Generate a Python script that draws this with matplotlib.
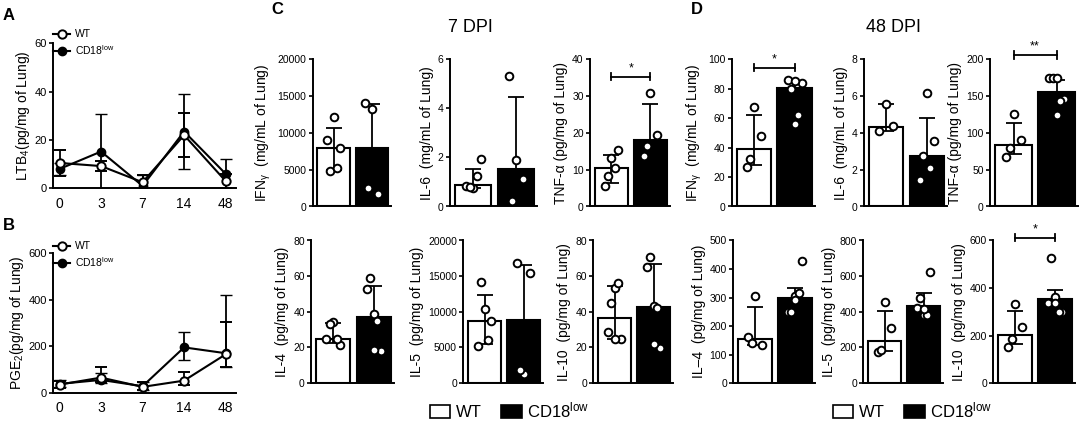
import numpy as np
import matplotlib
matplotlib.use("Agg")
import matplotlib.pyplot as plt
from matplotlib.lines import Line2D
from matplotlib.patches import Patch

plt.rcParams['font.family'] = ['Liberation Sans', 'DejaVu Sans']
plt.rcParams['mathtext.fontset'] = 'custom'
plt.rcParams['mathtext.rm'] = 'Liberation Sans'
plt.rcParams['mathtext.it'] = 'Liberation Sans:italic'

# ---- panel A / B : time course ----
days = ['0', '3', '7', '14', '48']
ltb4_wt = [10.5, 9.2, 2.5, 22, 3]
ltb4_wt_err = [5.5, 2, 3, 9, 3]
ltb4_ko = [8, 15.2, 1, 23.5, 6]
ltb4_ko_err = [2.5, 15.4, 4.5, 15.5, 6]

pge2_wt = [35, 65, 25, 52, 165]
pge2_wt_lo = [15, 20, 15, 20, 55]
pge2_wt_hi = [15, 45, 20, 38, 140]
pge2_ko = [38, 55, 28, 195, 170]
pge2_ko_lo = [15, 15, 15, 55, 60]
pge2_ko_hi = [15, 30, 20, 65, 250]

# ---- panel C : 7 DPI (bars = [WT, CD18low]) ----
c_ifn_bars = [8000, 8000]
c_ifn_lo = [5000, 2100]
c_ifn_hi = [10700, 13900]
c_ifn_wt = [9100, 12200, 7900, 4800, 5200]
c_ifn_ko = [14100, 13300, 1700, 2500]

c_il6_bars = [0.86, 1.54]
c_il6_lo = [0.77, 0.4]
c_il6_hi = [1.54, 4.47]
c_il6_wt = [0.83, 0.75, 1.92, 0.79, 1.23]
c_il6_ko = [5.33, 1.88, 1.13, 0.22]

c_tnf_bars = [10.5, 18.1]
c_tnf_lo = [6.5, 14]
c_tnf_hi = [14.1, 27.9]
c_tnf_wt = [5.7, 13.2, 15.4, 8.2, 10.5]
c_tnf_ko = [13.6, 30.8, 19.5, 16.5]

c_il4_bars = [24.8, 36.9]
c_il4_lo = [22.5, 18]
c_il4_hi = [33.7, 54.4]
c_il4_wt = [24.8, 34.4, 21.1, 33.1, 24.8]
c_il4_ko = [52.6, 38.7, 17.8, 59.1, 35, 18.3]

c_il5_bars = [8700, 8840]
c_il5_lo = [5500, 1300]
c_il5_hi = [12360, 16530]
c_il5_wt = [5200, 10450, 8750, 14170, 5970]
c_il5_ko = [16850, 1200, 15370, 1800]

c_il10_bars = [36.5, 42.9]
c_il10_lo = [24.7, 20]
c_il10_hi = [54.3, 66.7]
c_il10_wt = [28.5, 53.4, 24.7, 44.8, 56.2, 24.7]
c_il10_ko = [65.2, 43.4, 19.4, 70.9, 41.9, 21.9]

# ---- panel D : 48 DPI ----
d_ifn_bars = [39.2, 80.4]
d_ifn_lo = [28, 58]
d_ifn_hi = [62.2, 84]
d_ifn_wt = [26.8, 67.3, 47.7, 32]
d_ifn_ko = [86, 56, 84, 80, 62, 85]

d_il6_bars = [4.32, 2.77]
d_il6_lo = [4.1, 1.8]
d_il6_hi = [5.58, 4.8]
d_il6_wt = [4.09, 5.58, 4.36]
d_il6_ko = [1.42, 6.16, 3.55, 2.74, 2.11]

d_tnf_bars = [84, 156]
d_tnf_lo = [72, 130]
d_tnf_hi = [114, 172]
d_tnf_wt = [67, 125, 91, 79]
d_tnf_ko = [175, 124, 146, 175, 143, 174]

d_il4_bars = [153, 297]
d_il4_lo = [134, 250]
d_il4_hi = [268, 332]
d_il4_wt = [163, 305, 132, 140]
d_il4_ko = [250, 307, 429, 248, 315, 291]

d_il5_bars = [234, 434]
d_il5_lo = [180, 390]
d_il5_hi = [404, 508]
d_il5_wt = [174, 453, 306, 183]
d_il5_ko = [419, 381, 622, 475, 381, 413]

d_il10_bars = [204, 355]
d_il10_lo = [165, 300]
d_il10_hi = [304, 390]
d_il10_wt = [150, 331, 236, 186]
d_il10_ko = [338, 364, 299, 528, 297, 338]

W, H = 1084, 423
fig = plt.figure(figsize=(W / 100, H / 100), dpi=100)


def px_axes(x0, x1, ytop, ybot):
    return fig.add_axes([x0 / W, (H - ybot) / H, (x1 - x0) / W, (ybot - ytop) / H])


def prism_style(ax):
    for s in ['top', 'right']:
        ax.spines[s].set_visible(False)
    for s in ['left', 'bottom']:
        ax.spines[s].set_linewidth(1.4)
    ax.tick_params(axis='y', direction='out', length=3, width=1.2, labelsize=7.5, pad=1.5)


def jitter(n):
    pattern = [-0.17, 0.0, 0.17, -0.09, 0.09, 0.0]
    return np.array(pattern[:n]) if n <= len(pattern) else np.resize(pattern, n)


def bar_panel(ax, bars, lo, hi, wt, ko, ymax, step, ylabel):
    prism_style(ax)
    x = np.arange(2)
    ax.bar(x, bars, width=0.85, color=['white', 'black'], edgecolor='black',
           linewidth=1.5, zorder=2)
    yerr = [np.array(bars) - np.array(lo), np.array(hi) - np.array(bars)]
    ax.errorbar(x, bars, yerr=yerr, fmt='none', ecolor='black', elinewidth=1.3,
                capsize=6, capthick=1.3, zorder=3)
    for i, pts in enumerate([wt, ko]):
        ax.plot(i + jitter(len(pts)), pts, 'o', ms=5.5, mfc='white', mec='black',
                mew=1.4, zorder=4, clip_on=False)
    ax.set_xlim(-0.55, 1.5)
    ax.set_ylim(0, ymax)
    ticks = np.arange(0, ymax + step / 2, step)
    ax.set_yticks(ticks)
    ax.set_yticklabels([f'{t:g}' for t in ticks])
    ax.set_xticks([])
    ax.set_ylabel(ylabel, fontsize=10, labelpad=3)


def sig(ax, y, label):
    ax.plot([0, 1], [y, y], color='black', lw=1.3, clip_on=False, zorder=5)
    h = ax.get_ylim()[1] * 0.025
    for xe in [0, 1]:
        ax.plot([xe, xe], [y - h, y + h], color='black', lw=1.3, clip_on=False)
    ax.text(0.5, y + h * 0.6, label, ha='center', va='bottom', fontsize=9)


# ---- A ----
axA = px_axes(53.3, 236, 43.3, 188.3)
prism_style(axA)
xd = np.arange(len(days))
axA.errorbar(xd, ltb4_wt, yerr=ltb4_wt_err, fmt='-o', color='black', lw=1.5,
             ms=6, mfc='white', mec='black', mew=1.4, capsize=4, elinewidth=1.3, zorder=3)
axA.errorbar(xd, ltb4_ko, yerr=ltb4_ko_err, fmt='-o', color='black', lw=1.5,
             ms=6, mfc='black', mec='black', capsize=4, elinewidth=1.3, zorder=2)
axA.set_xlim(-0.15, 4.25)
axA.set_ylim(0, 60)
axA.set_yticks([0, 20, 40, 60])
axA.set_xticks(xd)
axA.set_xticklabels(days)
axA.tick_params(axis='x', direction='out', length=0, labelsize=10, pad=6)
axA.tick_params(axis='y', labelsize=8)
axA.set_ylabel('LTB$_4$(pg/mg of Lung)', fontsize=10, labelpad=2)

# ---- B ----
axB = px_axes(53.3, 236, 253.3, 392.7)
prism_style(axB)
axB.errorbar(xd, pge2_wt, yerr=[pge2_wt_lo, pge2_wt_hi], fmt='-o', color='black', lw=1.5,
             ms=6, mfc='white', mec='black', mew=1.4, capsize=4, elinewidth=1.3, zorder=3)
axB.errorbar(xd, pge2_ko, yerr=[pge2_ko_lo, pge2_ko_hi], fmt='-o', color='black', lw=1.5,
             ms=6, mfc='black', mec='black', capsize=4, elinewidth=1.3, zorder=2)
axB.set_xlim(-0.15, 4.25)
axB.set_ylim(0, 600)
axB.set_yticks([0, 200, 400, 600])
axB.set_xticks(xd)
axB.set_xticklabels(days)
axB.tick_params(axis='x', direction='out', length=0, labelsize=10, pad=6)
axB.tick_params(axis='y', labelsize=8)
axB.set_ylabel('PGE$_2$(pg/mg of Lung)', fontsize=10, labelpad=2)

line_handles = [
    Line2D([], [], color='black', lw=1.5, marker='o', ms=6, mfc='white', mec='black', mew=1.4),
    Line2D([], [], color='black', lw=1.5, marker='o', ms=6, mfc='black', mec='black'),
]
line_labels = ['WT', 'CD18$^{\\mathrm{low}}$']
for ytop in [24, 236]:
    fig.legend(line_handles, line_labels, loc='upper left',
               bbox_to_anchor=(48 / W, 1 - ytop / H), frameon=False, fontsize=7.5,
               handlelength=1.6, handletextpad=0.5, labelspacing=0.35, borderpad=0)

# ---- C / D bar panels ----
top_row = (59.3, 206.5)
bot_row = (240.5, 383)

panels = [
    ((312.7, 390.7), top_row, c_ifn_bars, c_ifn_lo, c_ifn_hi, c_ifn_wt, c_ifn_ko, 20000, 5000,
     'IFN$_{\\mathrm{γ}}$  (mg/mL of Lung)'),
    ((450, 537), top_row, c_il6_bars, c_il6_lo, c_il6_hi, c_il6_wt, c_il6_ko, 6, 2,
     'IL-6  (mg/mL of Lung)'),
    ((590, 670), top_row, c_tnf_bars, c_tnf_lo, c_tnf_hi, c_tnf_wt, c_tnf_ko, 40, 10,
     'TNF-α (pg/mg of Lung)'),
    ((311, 394), bot_row, c_il4_bars, c_il4_lo, c_il4_hi, c_il4_wt, c_il4_ko, 80, 20,
     'IL-4  (pg/mg of Lung)'),
    ((463.3, 543), bot_row, c_il5_bars, c_il5_lo, c_il5_hi, c_il5_wt, c_il5_ko, 20000, 5000,
     'IL-5  (pg/mg of Lung)'),
    ((593.3, 673), bot_row, c_il10_bars, c_il10_lo, c_il10_hi, c_il10_wt, c_il10_ko, 80, 20,
     'IL-10  (pg/mg of Lung)'),
    ((731.7, 815), top_row, d_ifn_bars, d_ifn_lo, d_ifn_hi, d_ifn_wt, d_ifn_ko, 100, 20,
     'IFN$_{\\mathrm{γ}}$  (mg/mL of Lung)'),
    ((864, 947), top_row, d_il6_bars, d_il6_lo, d_il6_hi, d_il6_wt, d_il6_ko, 8, 2,
     'IL-6  (mg/mL of Lung)'),
    ((990, 1078), top_row, d_tnf_bars, d_tnf_lo, d_tnf_hi, d_tnf_wt, d_tnf_ko, 200, 50,
     'TNF-α (pg/mg of Lung)'),
    ((733.3, 815), bot_row, d_il4_bars, d_il4_lo, d_il4_hi, d_il4_wt, d_il4_ko, 500, 100,
     'IL–4  (pg/mg of Lung)'),
    ((863.3, 943), bot_row, d_il5_bars, d_il5_lo, d_il5_hi, d_il5_wt, d_il5_ko, 800, 200,
     'IL-5  (pg/mg of Lung)'),
    ((993.3, 1075), bot_row, d_il10_bars, d_il10_lo, d_il10_hi, d_il10_wt, d_il10_ko, 600, 200,
     'IL-10  (pg/mg of Lung)'),
]

axes = []
for (x0, x1), (yt, yb), bars, lo, hi, wt, ko, ymax, step, lab in panels:
    ax = px_axes(x0, x1, yt, yb)
    bar_panel(ax, bars, lo, hi, wt, ko, ymax, step, lab)
    axes.append(ax)

# significance brackets: (panel index, y, label)
sig_marks = [(2, 35.3, '*'), (6, 94.4, '*'), (8, 206, '**'), (11, 611, '*')]
for idx, y, lab in sig_marks:
    sig(axes[idx], y, lab)

bar_handles = [Patch(facecolor='white', edgecolor='black', lw=1.2),
               Patch(facecolor='black', edgecolor='black', lw=1.2)]
bar_labels = ['WT', 'CD18$^{\\mathrm{low}}$']
for xc in [509.5, 912.5]:
    fig.legend(bar_handles, bar_labels, loc='center', ncol=2,
               bbox_to_anchor=(xc / W, 1 - 410 / H), frameon=False, fontsize=12,
               handlelength=1.25, handleheight=0.8, handletextpad=0.3,
               columnspacing=1.2, borderpad=0)

fig.text(470 / W, 1 - 27 / H, '7 DPI', ha='center', va='center', fontsize=13)
fig.text(893 / W, 1 - 27 / H, '48 DPI', ha='center', va='center', fontsize=13)

for lab, (x, y) in zip('ABCD', [(9, 15), (9, 225), (277, 10), (697, 10)]):
    fig.text(x / W, 1 - y / H, lab, ha='center', va='center', fontsize=12, fontweight='bold')

fig.savefig('out.png', dpi=100)
